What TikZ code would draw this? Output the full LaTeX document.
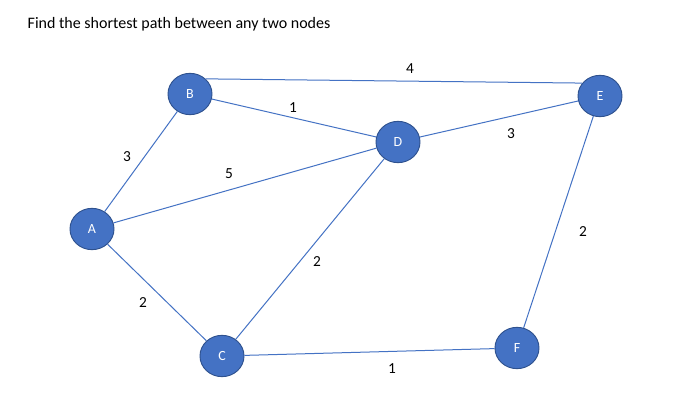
\documentclass[tikz,border=0pt]{standalone}
\usepackage{fontspec}
\setmainfont{Carlito}
\usepackage{tikz}
\usetikzlibrary{shapes.geometric}
\definecolor{nodeblue}{HTML}{4472C4}
\definecolor{nodeedge}{HTML}{2F528F}
\tikzstyle{vertex} = [ellipse, minimum width=33pt, minimum height=31pt, inner sep=0pt, font=\fontsize{10.5}{12}\selectfont, text=white, draw=nodeedge, fill=nodeblue, line width=0.7pt]
\tikzstyle{link} = [draw=nodeblue, line width=0.75pt]
\tikzstyle{weight} = [font=\fontsize{11.5}{13}\selectfont, text=black]

\begin{document}
\begin{tikzpicture}[x=0.75pt, y=-0.75pt]
  \useasboundingbox[fill=white] (0,0) rectangle (686,410);
  \node (TITLE) [anchor=west, font=\fontsize{12}{14}\selectfont] at (23,24) {Find the shortest path between any two nodes};

  \node (A) [vertex] at (92,229) {A};
  \node (B) [vertex] at (190,94) {B};
  \node (C) [vertex] at (222,356) {C};
  \node (D) [vertex] at (398,142) {D};
  \node (E) [vertex] at (600,96) {E};
  \node (F) [vertex] at (517,348) {F};

  \draw [link] (A) -- (B);
  \draw [link] (A) -- (D);
  \draw [link] (A) -- (C);
  \draw [link] (B) -- (D);
  \draw [link] (B.44) -- (E.144);
  \draw [link] (D) -- (E);
  \draw [link] (C) -- (D);
  \draw [link] (C) -- (F);
  \draw [link] (F) -- (E);

  \node (WAB) [weight] at (127,157) {3};
  \node (WAD) [weight] at (229,174) {5};
  \node (WAC) [weight] at (143,303) {2};
  \node (WBD) [weight] at (293,108) {1};
  \node (WBE) [weight] at (410,69) {4};
  \node (WDE) [weight] at (511,134) {3};
  \node (WCD) [weight] at (317,262) {2};
  \node (WCF) [weight] at (392,369) {1};
  \node (WEF) [weight] at (583,232) {2};
\end{tikzpicture}
\end{document}
